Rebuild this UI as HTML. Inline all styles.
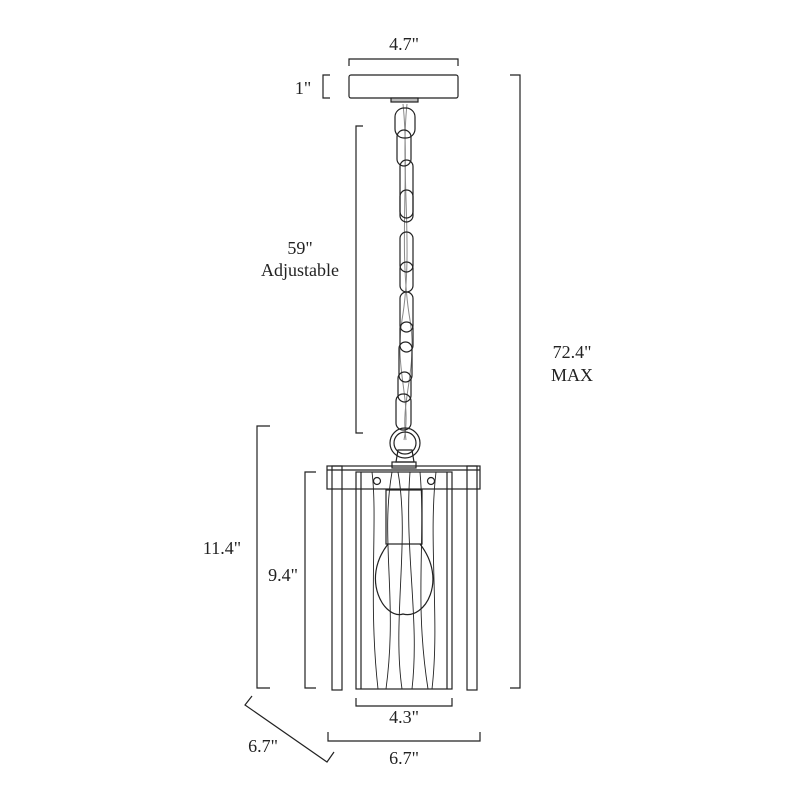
<!DOCTYPE html>
<html><head><meta charset="utf-8"><style>html,body{margin:0;background:#fff}svg{display:block}</style></head>
<body>
<svg width="800" height="800" viewBox="0 0 800 800" xmlns="http://www.w3.org/2000/svg" font-family="Liberation Serif, serif" font-size="18" fill="none" stroke="#222" stroke-width="1.2">
<!-- top dim -->
<path d="M349 66 V59 H458 V66"/>
<text x="404" y="50" fill="#222" stroke="none" text-anchor="middle">4.7"</text>
<rect x="349" y="75" width="109" height="23" rx="2"/>
<rect x="391" y="98" width="27" height="4" fill="#bbb"/>
<path d="M330 75 H323 V98 H330"/>
<text x="303" y="94" fill="#222" stroke="none" text-anchor="middle">1"</text>
<!-- 59 -->
<path d="M363 126 H356 V433 H363"/>
<text x="300" y="254" fill="#222" stroke="none" text-anchor="middle">59"</text>
<text x="300" y="276" fill="#222" stroke="none" text-anchor="middle">Adjustable</text>
<!-- 72.4 -->
<path d="M510 75 H520 V688 H510"/>
<text x="572" y="358" fill="#222" stroke="none" text-anchor="middle">72.4"</text>
<text x="572" y="381" fill="#222" stroke="none" text-anchor="middle">MAX</text>
<!-- chain -->
<path d="M403 104 C410 170 398 250 410 320 C418 370 400 400 406 440" stroke="#888" stroke-width="1"/>
<path d="M407 104 C400 170 414 250 402 320 C394 370 412 400 404 440" stroke="#888" stroke-width="1"/>
<rect x="395" y="108" width="20" height="30" rx="9"/>
<rect x="397" y="130" width="14" height="36" rx="7"/>
<rect x="400" y="160" width="13" height="58" rx="6.5"/>
<rect x="400" y="190" width="13" height="32" rx="6.5"/>
<rect x="400" y="232" width="13" height="40" rx="6.5"/>
<rect x="400" y="262" width="13" height="30" rx="6.5"/>
<rect x="400" y="292" width="13" height="40" rx="6.5"/>
<rect x="400" y="322" width="13" height="30" rx="6.5"/>
<rect x="399" y="342" width="13" height="40" rx="6.5"/>
<rect x="398" y="372" width="13" height="30" rx="6.5"/>
<rect x="396" y="394" width="15" height="36" rx="7"/>
<circle cx="405" cy="443" r="15"/>
<circle cx="405" cy="443" r="11"/>
<path d="M398 450 L396 462 H414 L412 450 Z"/>
<!-- lantern -->
<rect x="327" y="466" width="153" height="23"/>
<path d="M327 470 H480"/>
<rect x="332" y="466" width="10" height="224"/>
<rect x="467" y="466" width="10" height="224"/>
<rect x="356" y="472" width="96" height="217"/>
<path d="M361 472 V689 M447 472 V689"/>
<rect x="392" y="462" width="24" height="6"/>
<circle cx="377" cy="481" r="3.5"/>
<circle cx="431" cy="481" r="3.5"/>
<rect x="386" y="490" width="36" height="54"/>
<path d="M388 544 C360 580 385 620 403 614 C425 620 448 580 420 544" />
<g stroke-width="0.9">
<path d="M372 472 C378 520 368 600 378 689"/>
<path d="M392 472 C380 540 398 600 386 689"/>
<path d="M398 472 C410 540 392 620 402 689"/>
<path d="M410 472 C404 550 420 620 412 689"/>
<path d="M420 472 C426 540 414 600 428 689"/>
<path d="M436 472 C428 540 440 620 432 689"/>
</g>
<!-- left dims -->
<path d="M270 426 H257 V688 H270"/>
<text x="222" y="554" fill="#222" stroke="none" text-anchor="middle">11.4"</text>
<path d="M316 472 H305 V688 H316"/>
<text x="283" y="581" fill="#222" stroke="none" text-anchor="middle">9.4"</text>
<!-- bottom dims -->
<path d="M356 698 V706 H452 V698"/>
<text x="404" y="723" fill="#222" stroke="none" text-anchor="middle">4.3"</text>
<path d="M328 732 V741 H480 V732"/>
<text x="404" y="764" fill="#222" stroke="none" text-anchor="middle">6.7"</text>
<path d="M252 696 L245 705 L327 762 L334 752"/>
<text x="263" y="752" fill="#222" stroke="none" text-anchor="middle">6.7"</text>
</svg>
</body></html>
